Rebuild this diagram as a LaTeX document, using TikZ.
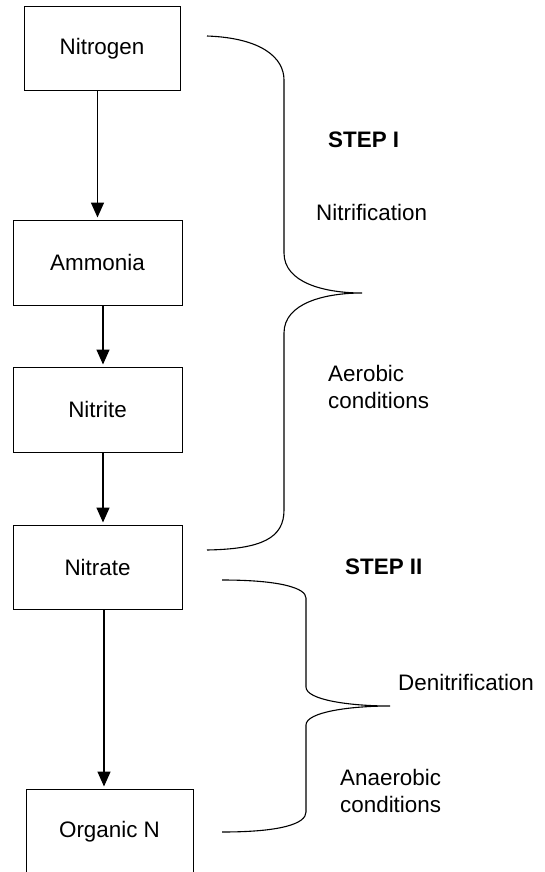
\documentclass[tikz,border=0pt]{standalone}
\usepackage{fontspec}
\setmainfont{Liberation Sans}
\usetikzlibrary{arrows.meta,calc}

\tikzset{
  box/.style={draw,line width=1pt,minimum width=169pt,minimum height=85pt,inner sep=0pt,font=\fontsize{22.4}{27}\selectfont},
  flow/.style={line width=1.5pt,-{Triangle[width=13pt,length=15pt]},shorten >=2pt},
  brace/.style={line width=1.1pt},
  lbl/.style={anchor=west,inner sep=0pt,align=left,font=\fontsize{22.4}{27}\selectfont},
  steplbl/.style={lbl,font=\fontsize{22.4}{27}\selectfont\bfseries}
}

\begin{document}
\begin{tikzpicture}[x=1pt,y=-1pt]
\clip (0,0) rectangle (544,872);

\node[box,minimum width=156pt,minimum height=84pt] (nitrogen) at (102,49) {Nitrogen};
\node[box] (ammonia) at (97.5,262.5) {Ammonia};
\node[box] (nitrite) at (97.5,409.5) {Nitrite};
\node[box,minimum height=84pt] (nitrate) at (97.5,567) {Nitrate};
\node[box,minimum width=167pt,minimum height=86pt] (organicN) at (109.5,832) {Organic N};

\draw[flow] (nitrogen.south -| ammonia.north) -- (ammonia.north);
\draw[flow] ([xshift=5.5pt]ammonia.south) -- ([xshift=5.5pt]nitrite.north);
\draw[flow] ([xshift=5.5pt]nitrite.south) -- ([xshift=5.5pt]nitrate.north);
\draw[flow] ([xshift=6.5pt]nitrate.south) -- ([xshift=6.5pt]nitrate.south |- organicN.north);

% step I brace
\draw[brace] (207,36) .. controls (262,38) and (284,58) .. (284,80) -- (284,253)
  .. controls (284,283) and (325,293) .. (362,293)
  .. controls (325,293) and (284,303) .. (284,333) -- (284,510)
  .. controls (284,538) and (262,549) .. (207,550);

% step II brace
\draw[brace] (222,580) .. controls (280,580) and (306,588) .. (306,598) -- (306,687)
  .. controls (306,700) and (350,706) .. (390,706)
  .. controls (350,706) and (306,712) .. (306,725) -- (306,812)
  .. controls (306,824) and (280,832) .. (222,832);

\node[steplbl] (stepI) at (328,140) {STEP I};
\node[lbl] (nitrif) at (316,212) {Nitrification};
\node[lbl] (aerobic) at (328,386.5) {Aerobic\\conditions};
\node[steplbl] (stepII) at (345,567) {STEP II};
\node[lbl] (denitrif) at (398,682) {Denitrification};
\node[lbl] (anaerobic) at (340,790.5) {Anaerobic\\conditions};
\end{tikzpicture}
\end{document}
